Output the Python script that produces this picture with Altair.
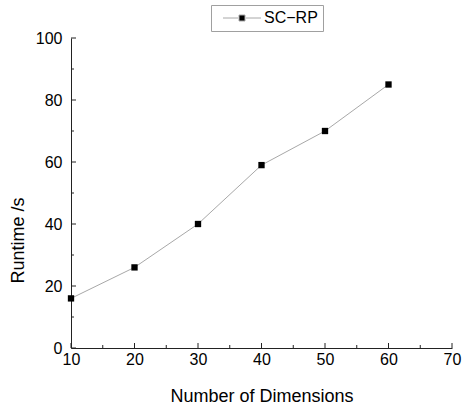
import altair as alt
import pandas as pd

# Data
dimensions = [10, 20, 30, 40, 50, 60]
runtime = [16, 26, 40, 59, 70, 85]
series_name = "SC\u2212RP"

x_major = [10, 20, 30, 40, 50, 60, 70]
x_minor = [15, 25, 35, 45, 55, 65]
y_major = [0, 20, 40, 60, 80, 100]
y_minor = [10, 30, 50, 70, 90]

W, H = 381, 310
FONT = "Liberation Sans"

df = pd.DataFrame({"dim": dimensions, "rt": runtime, "series": [series_name] * len(dimensions)})

xs = alt.Scale(domain=[10, 70], nice=False, zero=False)
ys = alt.Scale(domain=[0, 100], nice=False)

base = alt.Chart(df)

line = base.mark_line(color="#a8a8a8", strokeWidth=1).encode(
    x=alt.X("dim:Q", scale=xs,
            axis=alt.Axis(values=x_major, ticks=False, grid=False, domainColor="#222",
                          labelFont=FONT, labelFontSize=16, labelColor="#000", labelPadding=3,
                          labelFlush=False,
                          title="Number of Dimensions", titleFont=FONT, titleFontSize=18,
                          titleFontWeight="normal", titleColor="#000",
                          titleBaseline="alphabetic", titleY=53)),
    y=alt.Y("rt:Q", scale=ys,
            axis=alt.Axis(values=y_major, ticks=False, grid=False, domainColor="#222",
                          labelFont=FONT, labelFontSize=16, labelColor="#000", labelPadding=9,
                          labelFlush=False,
                          title="Runtime /s", titleFont=FONT, titleFontSize=18,
                          titleFontWeight="normal", titleColor="#000",
                          titleAngle=-90, titleBaseline="alphabetic", titleAlign="center",
                          titleX=-48, titleY=202)),
)

# legend symbol: line - square - line, 40px wide, drawn with a 10px symbol size (unit = 5px)
sym_path = "M-0.2,0H2.8M4.4,0H7.4M3,-0.6H4.2V0.6H3Z"

points = base.mark_square(size=40, opacity=1).encode(
    x=alt.X("dim:Q", scale=xs),
    y=alt.Y("rt:Q", scale=ys),
    color=alt.Color("series:N", scale=alt.Scale(range=["#000000"]),
                    legend=alt.Legend(title=None, orient="none", legendX=140, legendY=-33,
                                      symbolType=sym_path, symbolSize=100,
                                      symbolFillColor="#000", symbolStrokeColor="#a8a8a8",
                                      symbolStrokeWidth=1,
                                      labelFont=FONT, labelFontSize=16, labelColor="#000",
                                      labelOffset=32,
                                      strokeColor="#a0a0a0", padding=5, fillColor="white")),
)

xmaj_df = pd.DataFrame({"v": x_major})
xmin_df = pd.DataFrame({"v": x_minor})
ymaj_df = pd.DataFrame({"v": y_major})
ymin_df = pd.DataFrame({"v": y_minor})

tick_color = "#222"
xmaj = alt.Chart(xmaj_df).mark_rule(color=tick_color).encode(
    x=alt.X("v:Q", scale=xs), y=alt.value(H), y2=alt.value(H - 5))
xmin = alt.Chart(xmin_df).mark_rule(color=tick_color).encode(
    x=alt.X("v:Q", scale=xs), y=alt.value(H), y2=alt.value(H - 3))
ymaj = alt.Chart(ymaj_df).mark_rule(color=tick_color).encode(
    y=alt.Y("v:Q", scale=ys), x=alt.value(0), x2=alt.value(5))
ymin = alt.Chart(ymin_df).mark_rule(color=tick_color).encode(
    y=alt.Y("v:Q", scale=ys), x=alt.value(0), x2=alt.value(3))

chart = alt.layer(line, xmaj, xmin, ymaj, ymin, points).properties(
    width=W, height=H,
    autosize=alt.AutoSizeParams(type="none"),
    padding={"left": 71, "top": 38, "right": 11, "bottom": 58},
    background="white",
).configure_view(stroke=None)

chart.save("out.html", embed_options={"renderer": "svg", "actions": False})
